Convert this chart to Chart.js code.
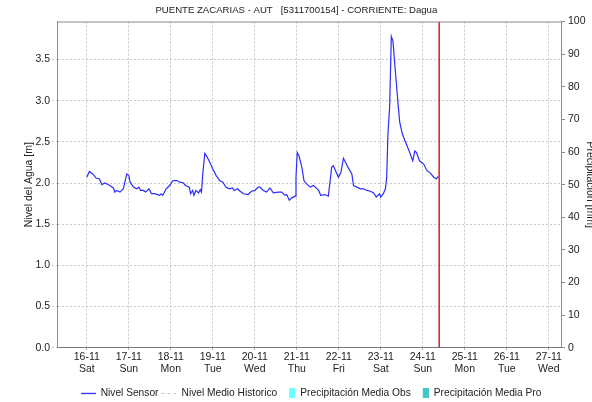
<!DOCTYPE html>
<html>
<head>
<meta charset="utf-8">
<script src="https://cdn.jsdelivr.net/npm/chart.js@4"></script>
<style>
  html, body { margin: 0; padding: 0; background: #fff; overflow: hidden; }
  #wrap { width: 600px; height: 402px; position: relative; }
</style>
</head>
<body>
<div id="wrap"><canvas id="myChart" width="600" height="402"></canvas></div>
<script>
// days counted from 16-11 00:00
let sensorDays = [
    0.00, 0.06, 0.14, 0.22, 0.30, 0.36, 0.43, 0.55, 0.63, 0.67, 0.71, 0.79, 0.87, 0.95,
    1.00, 1.03, 1.11, 1.19, 1.24, 1.28, 1.35, 1.40, 1.48, 1.54, 1.62, 1.73, 1.77, 1.81, 1.89, 1.97,
    2.00, 2.05, 2.14, 2.22, 2.30, 2.35, 2.44, 2.47, 2.52, 2.55, 2.60, 2.66, 2.70, 2.73, 2.76, 2.81, 2.85, 2.93,
    3.00, 3.08, 3.16, 3.24, 3.31, 3.39, 3.47, 3.51, 3.59, 3.65, 3.73, 3.84, 3.92,
    4.00, 4.08, 4.12, 4.20, 4.28, 4.36, 4.44, 4.56, 4.64, 4.72, 4.76, 4.82, 4.88, 4.96, 4.98,
    5.01, 5.05, 5.12, 5.17, 5.23, 5.32, 5.40, 5.44, 5.52, 5.57, 5.67, 5.75, 5.83, 5.87, 5.99,
    6.05, 6.11, 6.17, 6.22, 6.31, 6.35, 6.43, 6.51, 6.59, 6.67, 6.75, 6.83, 6.89, 6.97,
    7.00, 7.06, 7.11, 7.14, 7.17, 7.21, 7.25, 7.29, 7.33, 7.37, 7.41, 7.45, 7.51, 7.57, 7.65, 7.76, 7.81, 7.85, 7.92,
    8.02, 8.10, 8.18, 8.26, 8.32, 8.37
];
let sensorLevel = [
    2.07, 2.14, 2.11, 2.06, 2.05, 1.98, 2.00, 1.97, 1.94, 1.89, 1.91, 1.89, 1.93, 2.11,
    2.09, 2.01, 1.95, 1.93, 1.95, 1.91, 1.91, 1.89, 1.93, 1.87, 1.87, 1.85, 1.87, 1.85, 1.93, 1.97,
    1.99, 2.03, 2.03, 2.01, 2.00, 1.97, 1.95, 1.87, 1.91, 1.85, 1.91, 1.88, 1.92, 1.89, 2.11, 2.36, 2.33, 2.25,
    2.17, 2.09, 2.03, 2.01, 1.95, 1.93, 1.94, 1.91, 1.93, 1.90, 1.87, 1.86, 1.90,
    1.91, 1.95, 1.95, 1.91, 1.89, 1.94, 1.88, 1.89, 1.89, 1.85, 1.86, 1.79, 1.82, 1.84, 2.07,
    2.37, 2.33, 2.19, 2.03, 1.99, 1.95, 1.97, 1.95, 1.91, 1.85, 1.86, 1.84, 2.19, 2.21, 2.07,
    2.13, 2.30, 2.24, 2.19, 2.11, 1.97, 1.95, 1.93, 1.93, 1.91, 1.90, 1.88, 1.83, 1.87,
    1.83, 1.87, 1.93, 2.07, 2.60, 2.92, 3.78, 3.72, 3.45, 3.21, 2.96, 2.74, 2.60, 2.52, 2.42, 2.27, 2.39, 2.37, 2.27,
    2.23, 2.15, 2.12, 2.07, 2.05, 2.08
];

let tickDays = [0, 1, 2, 3, 4, 5, 6, 7, 8, 9, 10, 11];
let tickDates = ['16-11', '17-11', '18-11', '19-11', '20-11', '21-11', '22-11', '23-11', '24-11', '25-11', '26-11', '27-11'];
let tickWeekdays = ['Sat', 'Sun', 'Mon', 'Tue', 'Wed', 'Thu', 'Fri', 'Sat', 'Sun', 'Mon', 'Tue', 'Wed'];

let nowDay = 8.39;
let dayMin = -0.71;
let dayMax = 11.29;
let levelMax = 3.96;
let precipMax = 100;

let chartTitle = 'PUENTE ZACARIAS - AUT   [5311700154] - CORRIENTE: Dagua';
let legendNames = ['Nivel Sensor', 'Nivel Medio Historico', 'Precipitación Media Obs', 'Precipitación Media Pro'];

const txtFont = { family: 'Liberation Sans', size: 10.5 };

function makeIcon(kind, color) {
    let c = document.createElement('canvas');
    c.width = 15;
    c.height = 12;
    let g = c.getContext('2d');
    if (kind === 'line') {
        g.strokeStyle = color;
        g.lineWidth = 1.3;
        g.beginPath();
        g.moveTo(0, 6.5);
        g.lineTo(15, 6.5);
        g.stroke();
    } else if (kind === 'dash') {
        g.strokeStyle = color;
        g.lineWidth = 1;
        g.setLineDash([3, 3]);
        g.beginPath();
        g.moveTo(0, 6.5);
        g.lineTo(15, 6.5);
        g.stroke();
    } else {
        g.fillStyle = color;
        g.fillRect(9, 1, 6, 10);
    }
    return c;
}

let legendIcons = [
    makeIcon('line', '#2b2bff'),
    makeIcon('dash', '#c8c8c8'),
    makeIcon('box', '#66ffff'),
    makeIcon('box', '#40c8c8')
];

// top frame line of the plot area
const frameTop = {
    id: 'frameTop',
    afterDraw(chart) {
        const a = chart.chartArea;
        const ctx = chart.ctx;
        ctx.save();
        ctx.strokeStyle = '#8a8a8a';
        ctx.lineWidth = 1;
        ctx.beginPath();
        ctx.moveTo(a.left, a.top + 0.5);
        ctx.lineTo(a.right, a.top + 0.5);
        ctx.stroke();
        ctx.restore();
    }
};

const ctx = document.getElementById('myChart');

new Chart(ctx, {
    type: 'line',
    data: {
        datasets: [{
            label: legendNames[0],
            data: sensorDays.map((d, i) => ({ x: d, y: sensorLevel[i] })),
            borderColor: '#2b2bff',
            borderWidth: 1.2,
            pointRadius: 0,
            tension: 0,
            yAxisID: 'y'
        }, {
            label: legendNames[1],
            data: [],
            borderColor: '#c8c8c8',
            borderDash: [3, 3],
            pointRadius: 0,
            yAxisID: 'y'
        }, {
            type: 'bar',
            label: legendNames[2],
            data: [],
            backgroundColor: '#66ffff',
            yAxisID: 'y2'
        }, {
            type: 'bar',
            label: legendNames[3],
            data: [],
            backgroundColor: '#40c8c8',
            yAxisID: 'y2'
        }, {
            label: 'now',
            data: [{ x: nowDay, y: 0 }, { x: nowDay, y: levelMax }],
            borderColor: '#d83030',
            borderWidth: 1.6,
            pointRadius: 0,
            yAxisID: 'y'
        }]
    },
    options: {
        responsive: false,
        animation: false,
        devicePixelRatio: 1,
        layout: { padding: { left: 22, bottom: -6 } },
        plugins: {
            title: {
                display: true,
                // trailing spaces move the centred title a bit to the left
                text: chartTitle + '           ',
                color: '#222',
                font: { family: 'Liberation Sans', size: 9.6, weight: 'normal' },
                padding: { top: 5, bottom: 5 }
            },
            legend: {
                position: 'bottom',
                labels: {
                    color: '#222',
                    font: { family: 'Liberation Sans', size: 10.2 },
                    usePointStyle: true,
                    pointStyleWidth: 15,
                    padding: 3,
                    generateLabels: function (chart) {
                        return legendNames.map((name, i) => ({
                            text: name,
                            pointStyle: legendIcons[i],
                            datasetIndex: i,
                            hidden: false,
                            lineWidth: 0,
                            fontColor: '#222'
                        }));
                    }
                }
            },
            tooltip: { enabled: false }
        },
        scales: {
            x: {
                type: 'linear',
                min: dayMin,
                max: dayMax,
                offset: false,
                afterBuildTicks: function (scale) {
                    scale.ticks = tickDays.map(v => ({ value: v }));
                },
                afterFit: function (scale) {
                    scale.height = 37;
                    scale.paddingLeft = 0;
                    scale.paddingRight = 0;
                },
                ticks: {
                    color: '#222',
                    font: { family: 'Liberation Sans', size: 10.5, lineHeight: 1.14 },
                    padding: 0,
                    maxRotation: 0,
                    autoSkip: false,
                    callback: function (value, index) {
                        return [tickDates[index], tickWeekdays[index]];
                    }
                },
                grid: {
                    offset: false,
                    color: '#c8c8c8',
                    tickLength: 3,
                    tickColor: '#aaa',
                    tickBorderDash: [2, 2]
                },
                border: { color: '#777', dash: [2, 2] }
            },
            y: {
                position: 'left',
                min: 0,
                max: levelMax,
                afterBuildTicks: function (scale) {
                    scale.ticks = scale.ticks.filter(t => Math.abs(t.value * 2 - Math.round(t.value * 2)) < 1e-6);
                },
                afterFit: function (scale) {
                    scale.width = 35;
                    scale.paddingTop = 0;
                    scale.paddingBottom = 0;
                },
                ticks: {
                    stepSize: 0.5,
                    color: '#222',
                    font: txtFont,
                    padding: 2,
                    callback: v => v.toFixed(1)
                },
                title: {
                    display: true,
                    text: 'Nivel del Agua [m]',
                    color: '#222',
                    font: txtFont,
                    padding: { top: 1, bottom: 0 }
                },
                grid: {
                    color: '#c8c8c8',
                    tickLength: 5,
                    tickColor: '#c8c8c8',
                    tickBorderDash: [2, 2]
                },
                border: { color: '#8a8a8a', dash: [2, 2] }
            },
            y2: {
                position: 'right',
                min: 0,
                max: precipMax,
                afterFit: function (scale) {
                    scale.width = 39;
                    scale.paddingTop = 0;
                    scale.paddingBottom = 0;
                },
                ticks: {
                    stepSize: 10,
                    color: '#222',
                    font: txtFont,
                    padding: 3
                },
                title: {
                    display: true,
                    text: 'Precipitación [mm]',
                    color: '#222',
                    font: txtFont,
                    padding: { top: 4, bottom: 0 }
                },
                grid: {
                    drawOnChartArea: false,
                    tickLength: 4,
                    tickColor: '#8a8a8a'
                },
                border: { color: '#8a8a8a' }
            }
        }
    },
    plugins: [frameTop]
});
</script>
</body>
</html>
